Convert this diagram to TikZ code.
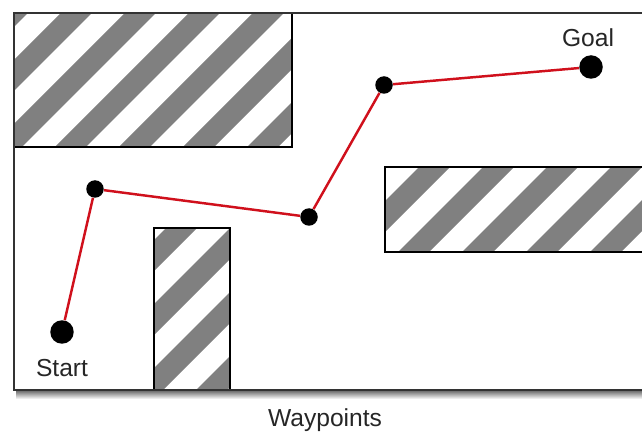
\documentclass[tikz,border=0pt]{standalone}
\usepackage{fontspec}
\setmainfont{Liberation Sans}
\definecolor{stripegray}{HTML}{808080}
\definecolor{framegray}{HTML}{333333}
\definecolor{pathred}{HTML}{D0101C}
\newcommand{\hatchbox}[2]{%
    \begin{scope}
        \clip #1 rectangle #2;
        \foreach \k in {-4,...,12}
            \fill[stripegray] (202+64*\k,0) -- (233+64*\k,0) -- (-267+64*\k,500) -- (-298+64*\k,500) -- cycle;
    \end{scope}
    \draw[line width=0.7pt] #1 rectangle #2;
}

\begin{document}
\begin{tikzpicture}[x=0.02cm,y=-0.02cm]
                        \tikzstyle{waypoint}=[circle,fill=black,inner sep=0pt,minimum size=0.35cm]
                        \tikzstyle{endpoint}=[circle,fill=black,inner sep=0pt,minimum size=0.47cm]
                        \tikzstyle{label}=[font=\fontsize{14}{16}\selectfont,text=black!85]
                        \useasboundingbox (0,0) rectangle (642,435);
                        \clip (0,0) rectangle (642,435);
                        \shade[top color=black!55,bottom color=white] (16,391) rectangle (660,399);
                        \fill[white] (14,13) rectangle (660,390);
                        \hatchbox{(14,13)}{(292,147)}
                        \hatchbox{(385,167)}{(660,252)}
                        \hatchbox{(154,228)}{(230,390)}
                        \draw[framegray,line width=1.2pt] (660,13) -- (14,13) -- (14,390) -- (660,390);
                        \node[endpoint] (start) at (62,332) {};
                        \node[waypoint] (w1) at (95,189) {};
                        \node[waypoint] (w2) at (309,217) {};
                        \node[waypoint] (w3) at (384,85) {};
                        \node[endpoint] (goal) at (591,67) {};
                        \draw[pathred,line width=1.4pt] (start) -- (w1) -- (w2) -- (w3) -- (goal);
                        \node[label] (startlabel) at (62,368) {Start};
                        \node[label] (goallabel) at (588,38) {Goal};
                        \node[label] (title) at (325,420) {Waypoints};
\end{tikzpicture}
\end{document}
